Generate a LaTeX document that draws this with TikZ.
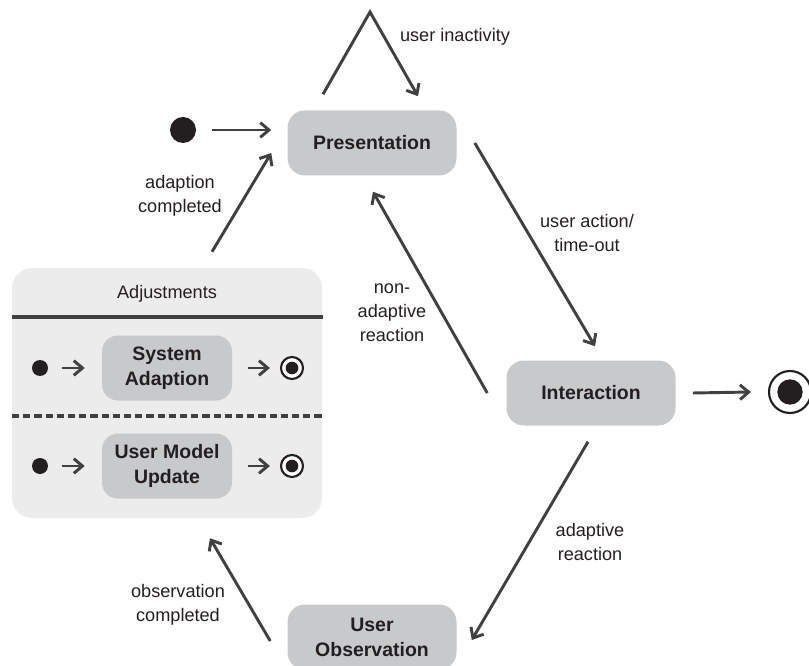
\documentclass[tikz,border=0pt]{standalone}
\usepackage{fontspec}
\setmainfont{Liberation Sans}
\usetikzlibrary{arrows.meta}
\definecolor{stfill}{HTML}{C8C9CB}
\definecolor{boxfill}{HTML}{ECECEC}
\definecolor{ink}{HTML}{231F20}
\definecolor{arr}{HTML}{404040}
\begin{document}
\begin{tikzpicture}[x=0.75pt,y=-0.75pt,
  state/.style={fill=stfill, rounded corners=13pt, minimum width=126.75pt, minimum height=48.75pt, align=center, font=\fontsize{14.6}{18.75}\selectfont\bfseries, text=ink, inner sep=0pt},
  substate/.style={state, minimum width=97.5pt, rounded corners=12pt},
  lbl/.style={align=center, font=\fontsize{13.6}{18}\selectfont, text=ink},
  tr/.style={draw=arr, line width=2.2pt, -{Straight Barb[length=6.5pt,width=11pt]}},
  initdot/.style={circle, fill=ink, inner sep=0pt, minimum size=#1},
  finring/.style={circle, draw=ink, fill=white, line width=1.6pt, inner sep=0pt, minimum size=#1},
  adjbox/.style={fill=boxfill, rounded corners=15pt, minimum width=232.5pt, minimum height=187.5pt, inner sep=0pt}
]
\useasboundingbox (0,0) rectangle (809,666);

% adjustments composite
\node[adjbox] (adj) at (167,393) {};
\node[lbl] (adjt) at (167,294) {Adjustments};
\coordinate (s1) at (12,317);
\coordinate (s2) at (323,317);
\draw[draw=arr, line width=2.3pt] (s1) -- (s2);
\coordinate (d1) at (12,416);
\coordinate (d2) at (323,416);
\draw[draw=arr, line width=2.3pt, dash pattern=on 5.4pt off 3pt] (d1) -- (d2);

% sub rows
\node[initdot=12pt] (i1) at (40,368) {};
\node[substate] (sa) at (167,368) {System\\Adaption};
\node[finring=16.5pt] (f1) at (292,368) {};
\node[initdot=9.5pt] at (f1) {};
\draw[tr] ([xshift=10.5pt]i1.east) -- ([xshift=-12.75pt]sa.west);
\draw[tr] ([xshift=12pt]sa.east) -- ([xshift=-7.5pt]f1.west);

\node[initdot=12pt] (i2) at (40,466) {};
\node[substate] (um) at (167,466) {User Model\\Update};
\node[finring=16.5pt] (f2) at (292,466) {};
\node[initdot=9.5pt] at (f2) {};
\draw[tr] ([xshift=10.5pt]i2.east) -- ([xshift=-12.75pt]um.west);
\draw[tr] ([xshift=12pt]um.east) -- ([xshift=-7.5pt]f2.west);

% main states
\node[state] (pres) at (372,143) {Presentation};
\node[state] (inter) at (591,393) {Interaction};
\node[state] (obs) at (372,637) {User\\Observation};
\node[initdot=19.5pt] (init) at (183,130) {};
\node[finring=31.5pt] (fin) at (790,392) {};
\node[initdot=19pt] at (fin) {};

% transitions
\draw[tr] ([xshift=12pt]init.east) -- ([xshift=-12pt,yshift=9.75pt]pres.west);
\draw[tr] ([xshift=33.75pt,yshift=12pt]adj.north) -- ([xshift=-12pt,yshift=-7.5pt]pres.west);
\coordinate (peak) at (370,12);
\draw[tr] ([xshift=-36.75pt,yshift=12pt]pres.north) -- (peak) -- ([xshift=34.5pt,yshift=10.5pt]pres.north);
\draw[tr] ([xshift=13.5pt]pres.east) -- ([xshift=3pt,yshift=10.5pt]inter.north);
\draw[tr] ([xshift=-14.25pt]inter.west) -- ([xshift=0.75pt,yshift=-12pt]pres.south);
\draw[tr] ([xshift=12.75pt]inter.east) -- ([xshift=-12.75pt]fin.west);
\draw[tr] ([xshift=-2.25pt,yshift=-12pt]inter.south) -- ([xshift=11.25pt,yshift=-2.25pt]obs.east);
\draw[tr] ([xshift=-12.75pt,yshift=-3pt]obs.west) -- ([xshift=32.25pt,yshift=-15pt]adj.south);

% labels
\node[lbl] (l1) at (455,37) {user inactivity};
\node[lbl] (l2) at (180,196) {adaption\\completed};
\node[lbl] (l3) at (587,233) {user action/\\time-out};
\node[lbl] (l4) at (392,313) {non-\\adaptive\\reaction};
\node[lbl] (l5) at (590,542) {adaptive\\reaction};
\node[lbl] (l6) at (178,605) {observation\\completed};
\end{tikzpicture}
\end{document}
